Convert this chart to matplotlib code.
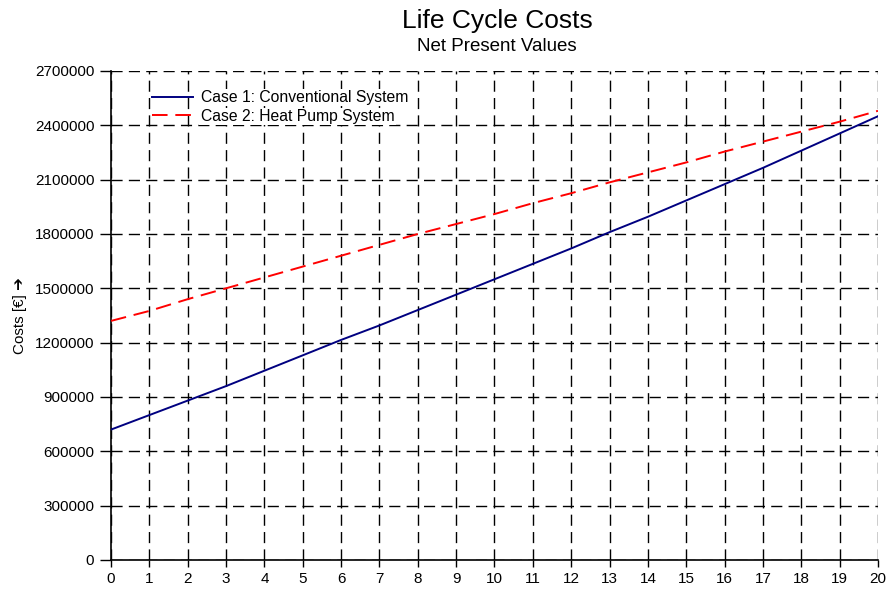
import numpy as np
import matplotlib
matplotlib.use("Agg")
import matplotlib.pyplot as plt

plt.rcParams['font.family'] = ['Liberation Sans', 'DejaVu Sans']
plt.rcParams['font.size'] = 11

years = list(range(21))
case1 = [720000, 800000, 880000, 960000, 1045000, 1130000, 1215000, 1295000,
         1380000, 1465000, 1550000, 1635000, 1720000, 1810000, 1895000,
         1985000, 2075000, 2165000, 2260000, 2355000, 2450000]
case2 = [1320000, 1375000, 1440000, 1500000, 1560000, 1620000, 1680000,
         1740000, 1800000, 1855000, 1910000, 1970000, 2025000, 2085000,
         2140000, 2195000, 2255000, 2310000, 2365000, 2420000, 2480000]
yticks = list(range(0, 2700001, 300000))

fig = plt.figure(figsize=(8.88, 5.91), dpi=100)
ax = fig.add_axes([0.125, 0.0525, 0.8637, 0.8274])

ax.plot(years, case1, color='#000080', lw=1.4, label='Case 1: Conventional System', zorder=3)
ax.plot(years, case2, color='#ff0000', lw=1.4, dashes=(8, 4), label='Case 2: Heat Pump System', zorder=3)

ax.set_xlim(0, 20)
ax.set_ylim(0, 2700000)
ax.set_xticks(years)
ax.set_yticks(yticks)
ax.set_yticklabels([str(v) for v in yticks])
ax.grid(True, color='black', lw=1, linestyle=(0, (8, 4.5)))
for s in ['top', 'right']:
    ax.spines[s].set_visible(False)
ax.spines['left'].set_linewidth(1.2)
ax.spines['bottom'].set_linewidth(1.2)
ax.tick_params(axis='y', length=8, width=1, pad=4, labelsize=11)
ax.tick_params(axis='x', length=5, width=1, pad=4, labelsize=11)

ax.set_ylabel('Costs [€] \u2794', labelpad=6, fontsize=11)

leg = ax.legend(loc='upper left', bbox_to_anchor=(0.035, 0.99), frameon=False,
                handlelength=2.6, handletextpad=0.5, labelspacing=0.25, fontsize=11.3)
for t in leg.get_texts():
    t.set_bbox(dict(facecolor='white', edgecolor='none', pad=1))

fig.text(0.56, 0.965, 'Life Cycle Costs', ha='center', va='center', fontsize=19)
fig.text(0.56, 0.922, 'Net Present Values', ha='center', va='center', fontsize=13.5)

fig.savefig('out.png', dpi=100)
